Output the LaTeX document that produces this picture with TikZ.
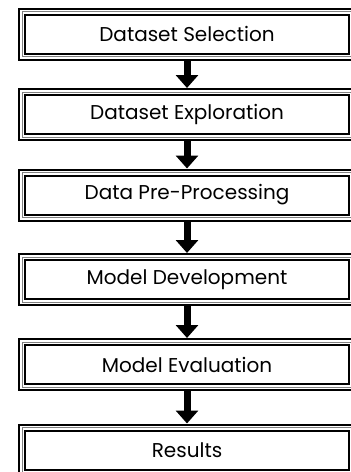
\documentclass[tikz,border=0pt]{standalone}
\usepackage{fontspec}
\setmainfont{Poppins}
\usepackage{tikz}
\usetikzlibrary{arrows.meta, positioning}

\begin{document}
\begin{tikzpicture}[x=1pt, y=1pt]
	\tikzset{stepbox/.style={draw=black, line width=2pt, fill=white, minimum width=324pt, minimum height=39pt, inner sep=0pt, outer sep=7pt, font=\fontsize{20}{23}\selectfont}}
	\tikzset{flow/.style={line width=7pt, -{Triangle[width=22pt, length=13pt]}}}
		\useasboundingbox (0,0) rectangle (351,-472);
		\foreach \name/\y/\tag in {b1/34/Dataset Selection, b2/114.5/Dataset Exploration, b3/195/Data Pre-Processing, b4/279.5/Model Development, b5/364.5/Model Evaluation, b6/450/Results}
		{\node[stepbox] (\name) at (187,-\y) {\tag};
		\draw[gray, line width=1pt] ([shift={(4,-4)}]\name.north west) rectangle ([shift={(-4,4)}]\name.south east);
		\draw[black, line width=2pt] ([shift={(1,-1)}]\name.north west) rectangle ([shift={(-1,1)}]\name.south east);}
		% arrows
		\draw[flow] (b1) -- (b2);
		\draw[flow] (b2) -- (b3);
		\draw[flow] (b3) -- (b4);
		\draw[flow] (b4) -- (b5);
		\draw[flow] (b5) -- (b6);
	\end{tikzpicture}
\end{document}
